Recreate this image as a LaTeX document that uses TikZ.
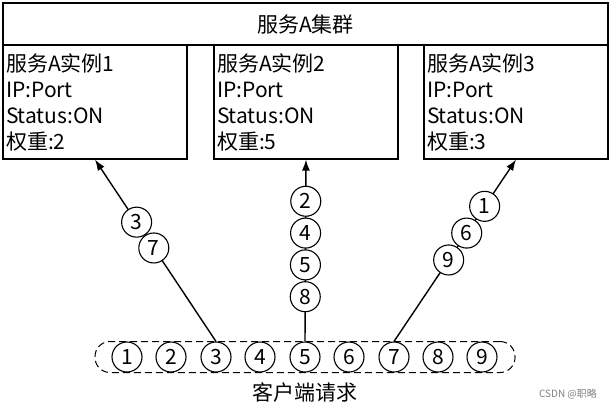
\documentclass[tikz,border=0pt]{standalone}
\usepackage{fontspec}
\setmainfont{Noto Sans CJK SC}
\usetikzlibrary{arrows.meta,calc}
\tikzset{>={Latex[length=11pt,width=8pt]}}
\tikzset{
  box/.style={draw, line width=1.2pt, minimum width=184pt, minimum height=114pt,
    text width=178pt, align=left, inner xsep=3pt, font=\fontsize{21}{26}\selectfont},
  req/.style={circle, draw, fill=white, line width=1.1pt, minimum size=30pt, inner sep=0pt,
    font=\fontsize{21}{22}\selectfont},
  link/.style={->, line width=1.4pt}
}

\begin{document}
\begin{tikzpicture}[x=1pt,y=-1pt]
\useasboundingbox (0,0) rectangle (611,410);
\node [draw, line width=1.2pt, minimum width=605pt, minimum height=42pt,
  font=\fontsize{21}{26}\selectfont] (cluster) at (305.5,24) {服务A集群};
\node [box] (inst1) at (95,102) {服务A实例1\\IP:Port\\Status:ON\\权重:2};
\node [box] (inst2) at (306,102) {服务A实例2\\IP:Port\\Status:ON\\权重:5};
\node [box] (inst3) at (516,102) {服务A实例3\\IP:Port\\Status:ON\\权重:3};
% request queue
\node [draw, dash pattern=on 7pt off 4pt, line width=1pt, rounded corners=15pt,
  minimum width=420pt, minimum height=31pt] (queue) at (305,357) {};
\node [req] (q1) at (127,357) {1};
\node [req] (q2) at (171,357) {2};
\node [req] (q3) at (216,357) {3};
\node [req] (q4) at (260,357) {4};
\node [req] (q5) at (305,357) {5};
\node [req] (q6) at (349,357) {6};
\node [req] (q7) at (394,357) {7};
\node [req] (q8) at (438,357) {8};
\node [req] (q9) at (482,357) {9};
\node [font=\fontsize{21}{22}\selectfont] (client) at (305,392) {客户端请求};
% dispatch
\draw [link] (q3.north) -- (inst1.south);
\draw [link] (q5.north) -- (inst2.south);
\draw [link] (q7.north) -- (inst3.south);
\node [req] (a7) at ($(q3.north)!0.514!(inst1.south)$) {7};
\node [req] (a3) at ($(q3.north)!0.656!(inst1.south)$) {3};
\node [req] (b8) at ($(q5.north)!0.246!(inst2.south)$) {8};
\node [req] (b5) at ($(q5.north)!0.421!(inst2.south)$) {5};
\node [req] (b4) at ($(q5.north)!0.596!(inst2.south)$) {4};
\node [req] (b2) at ($(q5.north)!0.771!(inst2.south)$) {2};
\node [req] (c9) at ($(q7.north)!0.448!(inst3.south)$) {9};
\node [req] (c6) at ($(q7.north)!0.596!(inst3.south)$) {6};
\node [req] (c1) at ($(q7.north)!0.743!(inst3.south)$) {1};
\node [text=gray, font=\fontsize{10}{12}\selectfont] (mark) at (568,394) {CSDN @职略};
\end{tikzpicture}
\end{document}
